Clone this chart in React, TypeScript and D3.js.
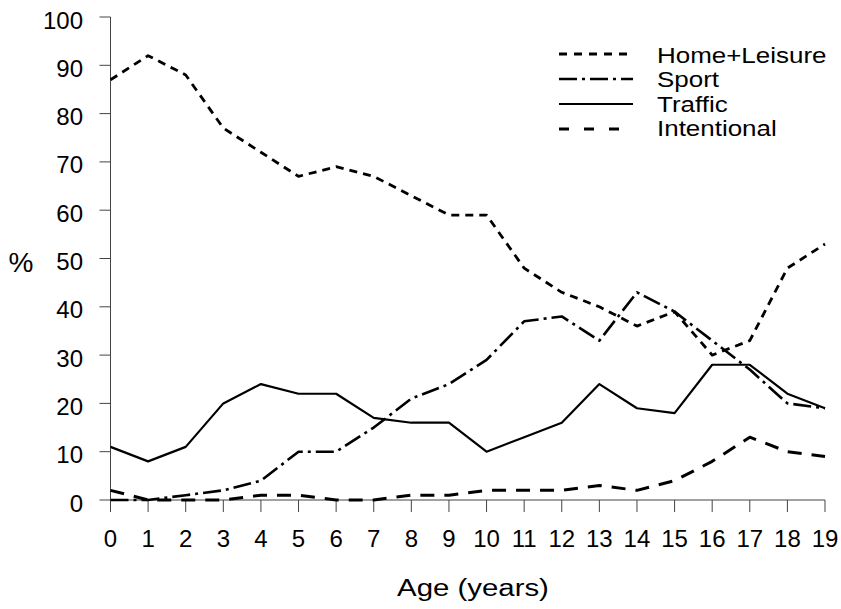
import React from "react";
import * as d3 from "d3";

const ages = [0, 1, 2, 3, 4, 5, 6, 7, 8, 9, 10, 11, 12, 13, 14, 15, 16, 17, 18, 19];
const homeLeisure = [87, 92, 88, 77, 72, 67, 69, 67, 63, 59, 59, 48, 43, 40, 36, 39, 30, 33, 48, 53];
const sport = [0, 0, 1, 2, 4, 10, 10, 15, 21, 24, 29, 37, 38, 33, 43, 39, 33, 27, 20, 19];
const traffic = [11, 8, 11, 20, 24, 22, 22, 17, 16, 16, 10, 13, 16, 24, 19, 18, 28, 28, 22, 19];
const intentional = [2, 0, 0, 0, 1, 1, 0, 0, 1, 1, 2, 2, 2, 3, 2, 4, 8, 13, 10, 9];
const yTicks = [0, 10, 20, 30, 40, 50, 60, 70, 80, 90, 100];

const seriesList = [
  { name: "Home+Leisure", values: homeLeisure, dash: "8,6", width: 2.8, legendDash: "8,7" },
  { name: "Sport", values: sport, dash: "18,5,3,5", width: 2.6, legendDash: "18,5,3,5" },
  { name: "Traffic", values: traffic, dash: "none", width: 2.2, legendDash: "none" },
  { name: "Intentional", values: intentional, dash: "14,10", width: 3, legendDash: "10,15" },
];

export default function App() {
  const W = 841, H = 609;
  const x = d3.scaleLinear().domain([0, 19]).range([110.5, 825]);
  const y = d3.scaleLinear().domain([0, 100]).range([500, 17]);
  const line = d3.line<number>().x((_, i) => x(ages[i])).y((d) => y(d));
  const font = "Liberation Sans, Arial, sans-serif";
  return (
    <svg width={W} height={H} style={{ position: "absolute", left: 0, top: 0, background: "#fff" }}
      fontFamily={font}>
      <rect width={W} height={H} fill="#fff" />
      {/* axes */}
      <line x1={x(0)} x2={x(0)} y1={y(100)} y2={y(0)} stroke="#444" strokeWidth={1} />
      <line x1={x(0)} x2={x(19)} y1={y(0)} y2={y(0)} stroke="#444" strokeWidth={1} />
      {yTicks.map((t) => (
        <g key={"y" + t}>
          <line x1={x(0) - 11} x2={x(0)} y1={y(t)} y2={y(t)} stroke="#444" strokeWidth={1} />
          <text x={83} y={y(t)} dy="0.48em" textAnchor="end" fontSize={24} fill="#000">{t}</text>
        </g>
      ))}
      {ages.map((a) => (
        <g key={"x" + a}>
          <line x1={x(a)} x2={x(a)} y1={y(0)} y2={y(0) + 12} stroke="#444" strokeWidth={1} />
          <text x={x(a)} y={547} textAnchor="middle" fontSize={24} fill="#000">{a}</text>
        </g>
      ))}
      <text transform="translate(473,596) scale(1.25,1)" textAnchor="middle" fontSize={23.5} fill="#000">Age (years)</text>
      <text x={21} y={272} textAnchor="middle" fontSize={28} fill="#000">%</text>
      {/* series */}
      {seriesList.map((s) => (
        <path key={s.name} d={line(s.values) || ""} fill="none" stroke="#000"
          strokeWidth={s.width} strokeDasharray={s.dash} strokeLinejoin="round" />
      ))}
      {/* legend */}
      {seriesList.map((s, i) => (
        <g key={"lg" + s.name}>
          <line x1={559} x2={633} y1={54 + i * 25} y2={54 + i * 25} stroke="#000" strokeWidth={s.width}
            strokeDasharray={s.legendDash} />
          <text transform={`translate(657, ${63 + i * 24.3}) scale(1.18,1)`} fontSize={22} fill="#000">{s.name}</text>
        </g>
      ))}
    </svg>
  );
}
